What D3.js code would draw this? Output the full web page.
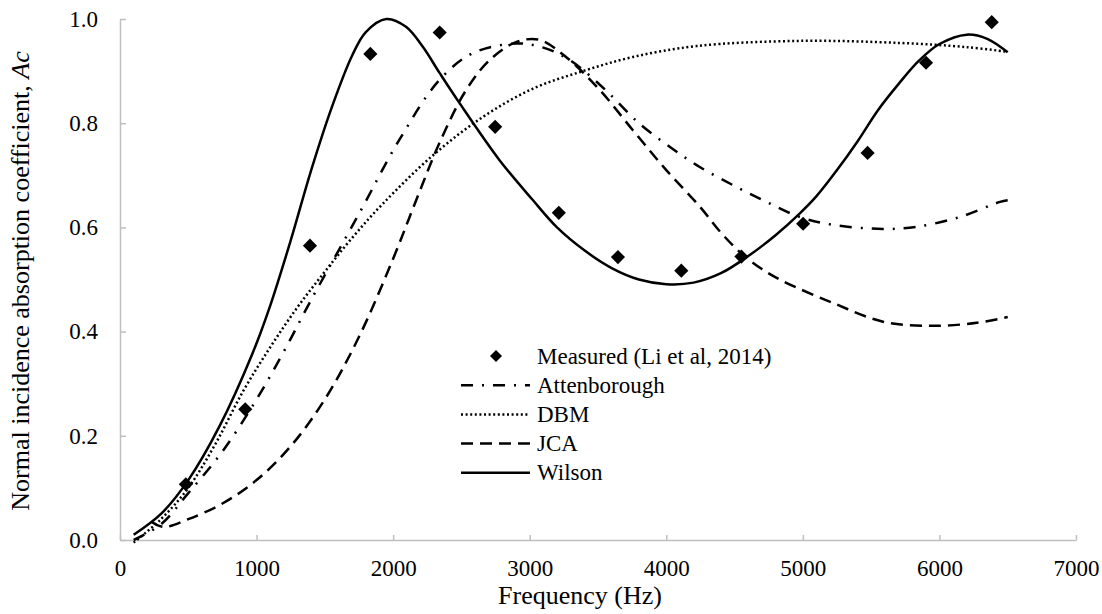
<!DOCTYPE html>
<html>
<head>
<meta charset="utf-8">
<script src="https://cdn.jsdelivr.net/npm/d3@7"></script>
<style>
  body { margin: 0; background: #fff; }
  .axis path, .axis line { stroke: #bfbfbf; stroke-width: 1.5; }
</style>
</head>
<body>
<div class="chart"></div>
<script>
// measured points (Li et al, 2014)
const measuredFreq = [482, 917, 1391, 1833, 2341, 2747, 3213, 3646, 4110, 4550, 5002, 5474, 5902, 6383]
const measuredAc = [0.107, 0.251, 0.565, 0.933, 0.974, 0.793, 0.628, 0.543, 0.517, 0.544, 0.607, 0.743, 0.916, 0.994]

// model curves
const attenFreq = [100, 300, 500, 750, 1000, 1200, 1398, 1752, 2045, 2339, 2581, 2900, 3100, 3300, 3550, 3800, 4050, 4245, 4489, 4733, 4978, 5220, 5587, 5831, 6150, 6444, 6500]
const attenAc = [0.0, 0.03, 0.09, 0.17, 0.27, 0.362, 0.46, 0.627, 0.768, 0.883, 0.934, 0.953, 0.945, 0.92, 0.865, 0.8, 0.75, 0.716, 0.681, 0.649, 0.62, 0.605, 0.597, 0.601, 0.62, 0.649, 0.652]

const dbmFreq = [100, 300, 500, 700, 900, 1100, 1300, 1500, 1700, 1923, 2290, 2657, 3021, 3390, 3754, 4220, 4978, 5711, 6202, 6500]
const dbmAc = [-0.005, 0.04, 0.1, 0.185, 0.285, 0.37, 0.447, 0.515, 0.58, 0.645, 0.738, 0.812, 0.866, 0.9, 0.927, 0.948, 0.958, 0.954, 0.946, 0.937]

const jcaFreq = [230, 320, 500, 750, 1000, 1250, 1500, 1750, 2000, 2170, 2339, 2535, 2706, 2903, 3072, 3266, 3512, 3754, 4000, 4245, 4400, 4550, 4700, 4853, 5220, 5587, 5953, 6275, 6500]
const jcaAc = [0.035, 0.025, 0.04, 0.07, 0.115, 0.18, 0.27, 0.39, 0.54, 0.653, 0.762, 0.864, 0.921, 0.956, 0.96, 0.927, 0.864, 0.787, 0.71, 0.64, 0.59, 0.55, 0.52, 0.497, 0.455, 0.419, 0.411, 0.417, 0.428]

const wilsonFreq = [100, 300, 500, 726, 970, 1100, 1250, 1400, 1550, 1700, 1800, 1950, 2094, 2216, 2341, 2485, 2779, 3021, 3200, 3400, 3600, 3800, 4000, 4200, 4400, 4611, 4800, 4978, 5100, 5250, 5400, 5550, 5700, 5850, 6000, 6200, 6350, 6500]
const wilsonAc = [0.01, 0.05, 0.115, 0.217, 0.358, 0.45, 0.575, 0.71, 0.83, 0.93, 0.975, 1.0, 0.985, 0.947, 0.896, 0.839, 0.729, 0.653, 0.6, 0.556, 0.522, 0.5, 0.491, 0.494, 0.512, 0.547, 0.585, 0.627, 0.66, 0.71, 0.765, 0.825, 0.875, 0.92, 0.952, 0.97, 0.962, 0.936]

const xTicks = [0, 1000, 2000, 3000, 4000, 5000, 6000, 7000]
const yTicks = [0, 0.2, 0.4, 0.6, 0.8, 1.0]

const seriesNames = ["Attenborough", "DBM", "JCA", "Wilson"]
const measuredName = "Measured (Li et al, 2014)"

const series = [
    { name: seriesNames[0], x: attenFreq, y: attenAc, dash: "12,9,2,9" },
    { name: seriesNames[1], x: dbmFreq, y: dbmAc, dash: "2,2.6" },
    { name: seriesNames[2], x: jcaFreq, y: jcaAc, dash: "12,7" },
    { name: seriesNames[3], x: wilsonFreq, y: wilsonAc, dash: null },
]

const serif = '"Liberation Serif", serif'

function drawChart() {

    let dimensions = {
        width: 1102,
        height: 614,
        margin: { top: 19, right: 26, bottom: 74, left: 120 },
    }
    dimensions.boundedWidth = dimensions.width - dimensions.margin.left - dimensions.margin.right
    dimensions.boundedHeight = dimensions.height - dimensions.margin.top - dimensions.margin.bottom

    const wrapper = d3.select(".chart")
        .append("svg")
        .attr("width", dimensions.width)
        .attr("height", dimensions.height)

    wrapper.append("rect")
        .attr("width", dimensions.width)
        .attr("height", dimensions.height)
        .attr("fill", "#fff")

    const bounds = wrapper.append("g")
        .attr("transform", `translate(${dimensions.margin.left},${dimensions.margin.top})`)

    const xScale = d3.scaleLinear()
        .domain([0, 7000])
        .range([0, dimensions.boundedWidth])

    const yScale = d3.scaleLinear()
        .domain([0, 1])
        .range([dimensions.boundedHeight, 0])

    // axes, ticks pointing inwards
    const xAxis = bounds.append("g")
        .attr("class", "axis")
        .attr("transform", `translate(0,${dimensions.boundedHeight})`)
        .call(d3.axisBottom(xScale).tickValues(xTicks).tickSize(-5).tickSizeOuter(0).tickPadding(20).tickFormat(d3.format("d")))
    xAxis.attr("font-family", serif).attr("font-size", 23)
    xAxis.selectAll("text").style("font-family", serif).style("font-size", "23px").style("fill", "#000")

    const yAxis = bounds.append("g")
        .attr("class", "axis")
        .call(d3.axisLeft(yScale).tickValues(yTicks).tickSize(-6).tickSizeOuter(0).tickPadding(22).tickFormat(d3.format(".1f")))
    yAxis.attr("font-family", serif).attr("font-size", 23)
    yAxis.selectAll("text").style("font-family", serif).style("font-size", "23px").style("fill", "#000")

    // curves
    const lineGen = d3.line()
        .x(d => xScale(d[0]))
        .y(d => yScale(d[1]))
        .curve(d3.curveCatmullRom.alpha(0.5))

    bounds.selectAll(".model")
        .data(series)
        .join("path")
        .attr("class", "model")
        .attr("d", s => lineGen(s.x.map((f, i) => [f, s.y[i]])))
        .attr("fill", "none")
        .attr("stroke", "#000")
        .attr("stroke-width", 2.5)
        .attr("stroke-dasharray", s => s.dash)

    // measured diamonds
    const diamond = d3.symbol(d3.symbolSquare, 100)
    bounds.selectAll(".measured")
        .data(measuredFreq.map((f, i) => [f, measuredAc[i]]))
        .join("path")
        .attr("class", "measured")
        .attr("d", diamond)
        .attr("transform", d => `translate(${xScale(d[0])},${yScale(d[1])}) rotate(45)`)
        .attr("fill", "#000")

    // legend
    const legend = wrapper.append("g").attr("transform", "translate(461,356)")
    const rowH = 29.2

    legend.append("path")
        .attr("d", d3.symbol(d3.symbolSquare, 72))
        .attr("transform", "translate(35,0) rotate(45)")
        .attr("fill", "#000")
    legend.append("text")
        .attr("x", 76)
        .attr("y", 7.5)
        .style("font-family", serif)
        .style("font-size", "23px")
        .text(measuredName)

    const rows = legend.selectAll(".row")
        .data(series)
        .join("g")
        .attr("class", "row")
        .attr("transform", (d, i) => `translate(0,${(i + 1) * rowH})`)
    rows.append("line")
        .attr("x1", 0)
        .attr("x2", 69)
        .attr("stroke", "#000")
        .attr("stroke-width", 2.5)
        .attr("stroke-dasharray", d => d.dash)
    rows.append("text")
        .attr("x", 76)
        .attr("y", 7.5)
        .style("font-family", serif)
        .style("font-size", "23px")
        .text(d => d.name)

    // axis titles
    wrapper.append("text")
        .attr("x", 580)
        .attr("y", 604)
        .attr("text-anchor", "middle")
        .style("font-family", serif)
        .style("font-size", "26px")
        .text("Frequency (Hz)")

    const yTitle = wrapper.append("text")
        .attr("transform", `translate(29,281) rotate(-90)`)
        .attr("text-anchor", "middle")
        .style("font-family", serif)
        .style("font-size", "26px")
    yTitle.append("tspan").text("Normal incidence absorption coefficient, ")
    yTitle.append("tspan").style("font-style", "italic").text("Ac")
}

drawChart()
</script>
</body>
</html>
